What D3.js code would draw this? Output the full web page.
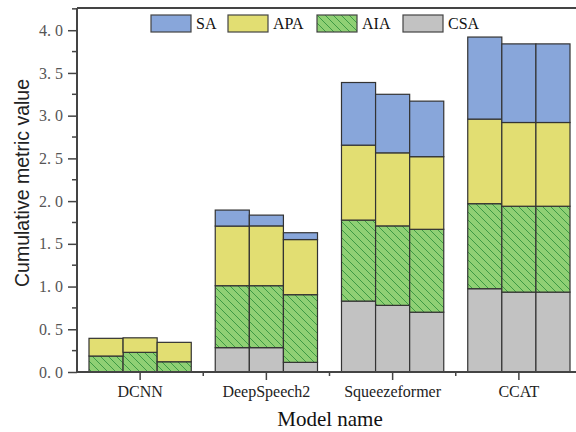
<!DOCTYPE html>
<html>
<head>
<meta charset="utf-8">
<script src="https://cdn.jsdelivr.net/npm/d3@7"></script>
<style>
  body { margin: 0; background: #fff; }
  text { font-family: "Liberation Serif", "Times New Roman", serif; }
</style>
</head>
<body>
<script>
width = 576
height = 432

models = ["DCNN", "DeepSpeech2", "Squeezeformer", "CCAT"]
variants = [0, 1, 2]
keys = ["CSA", "AIA", "APA", "SA"]
legendOrder = ["SA", "APA", "AIA", "CSA"]

// segment values, three bars per model
CSA = [[0, 0, 0], [0.285, 0.285, 0.113], [0.83, 0.78, 0.70], [0.975, 0.935, 0.935]]
AIA = [[0.187, 0.23, 0.12], [0.725, 0.725, 0.792], [0.948, 0.93, 0.97], [0.995, 1.005, 1.005]]
APA = [[0.207, 0.17, 0.227], [0.698, 0.70, 0.645], [0.877, 0.855, 0.85], [0.99, 0.98, 0.98]]
SA  = [[0, 0, 0], [0.187, 0.126, 0.08], [0.733, 0.685, 0.65], [0.96, 0.92, 0.92]]

yTicks = [0, 0.5, 1.0, 1.5, 2.0, 2.5, 3.0, 3.5, 4.0]

colors = {SA: "#88a6da", APA: "#e2de72", AIA: "#8fd074", CSA: "#c2c2c2"}

series = {CSA: CSA, AIA: AIA, APA: APA, SA: SA}
rows = []
models.forEach(function(m, i) {
    variants.forEach(function(v) {
        row = {model: m, v: v}
        keys.forEach(function(k) { row[k] = series[k][i][v] })
        rows.push(row)
    })
})
stacked = d3.stack().keys(keys)(rows)

// note: "top" is window.top, so use other names
pLeft = 77, pRight = 582, pTop = 8, pBottom = 372

x = d3.scaleBand()
    .domain(models)
    .range([pLeft, pRight])
    .paddingInner(0.19)
    .paddingOuter(0.095)
xs = d3.scaleBand()
    .domain(variants)
    .range([0, x.bandwidth()])
y = d3.scaleLinear()
    .domain([0, 4.26])
    .range([pBottom, pTop])

svg = d3.select("body")
    .append("svg")
    .attr("width", width)
    .attr("height", height)

defs = svg.append("defs")
pat = defs.append("pattern")
    .attr("id", "hatch")
    .attr("patternUnits", "userSpaceOnUse")
    .attr("width", 8)
    .attr("height", 8)
pat.append("rect")
    .attr("width", 8).attr("height", 8)
    .attr("fill", colors.AIA)
pat.append("path")
    .attr("d", "M-2,-2 L10,10 M-2,6 L2,10 M6,-2 L10,2")
    .attr("stroke", "#3e9a45")
    .attr("stroke-width", 1)

function fillFor(k) { return k == "AIA" ? "url(#hatch)" : colors[k] }

// bars
layers = svg.selectAll("g.layer")
    .data(stacked)
    .enter()
    .append("g")
    .attr("class", "layer")
    .attr("fill", function(d) { return fillFor(d.key) })

layers.selectAll("rect")
    .data(function(d) { return d.filter(function(s) { return s[1] - s[0] > 0 }) })
    .enter()
    .append("rect")
    .attr("x", function(d) { return x(d.data.model) + xs(d.data.v) })
    .attr("width", xs.bandwidth())
    .attr("y", function(d) { return y(d[1]) })
    .attr("height", function(d) { return y(d[0]) - y(d[1]) })
    .attr("stroke", "#333")
    .attr("stroke-width", 1.2)

// top frame
svg.append("line")
    .attr("x1", pLeft).attr("x2", width)
    .attr("y1", pTop).attr("y2", pTop)
    .attr("stroke", "#444")
    .attr("stroke-width", 2)

// y axis
yAxis = svg.append("g")
    .attr("transform", "translate(" + pLeft + ",0)")
    .call(d3.axisLeft(y).tickValues(yTicks).tickSize(9).tickPadding(5)
        .tickFormat(function(d) { return d3.format(".1f")(d).replace(".", ". ") }))
yAxis.select(".domain").attr("stroke", "#444").attr("stroke-width", 2)
    .attr("d", "M0," + pTop + "V" + pBottom)
yAxis.selectAll(".tick line").attr("stroke", "#444").attr("stroke-width", 1.5)
yAxis.selectAll(".tick text")
    .attr("fill", "#555")
    .style("font-size", "16px")
    .style("font-family", "Liberation Serif, serif")
yAxis.selectAll("line.minor")
    .data(d3.range(0.25, 4.26, 0.5))
    .enter()
    .append("line")
    .attr("class", "minor")
    .attr("x1", -5).attr("x2", 0)
    .attr("y1", function(d) { return y(d) })
    .attr("y2", function(d) { return y(d) })
    .attr("stroke", "#444")
    .attr("stroke-width", 1.5)

// x axis
xAxis = svg.append("g")
    .attr("transform", "translate(0," + pBottom + ")")
    .call(d3.axisBottom(x).tickSize(8).tickPadding(6))
xAxis.select(".domain").attr("stroke", "#444").attr("stroke-width", 2)
    .attr("d", "M" + pLeft + ",0H" + width)
xAxis.selectAll(".tick line").attr("stroke", "#444").attr("stroke-width", 1.5)
xAxis.selectAll(".tick text")
    .attr("fill", "#222")
    .style("font-size", "16px")
    .style("font-family", "Liberation Serif, serif")
xAxis.selectAll("line.minor")
    .data(models.slice(1))
    .enter()
    .append("line")
    .attr("class", "minor")
    .attr("x1", function(d) { return x(d) - x.step() * x.paddingInner() / 2 })
    .attr("x2", function(d) { return x(d) - x.step() * x.paddingInner() / 2 })
    .attr("y1", 0).attr("y2", 4)
    .attr("stroke", "#444")
    .attr("stroke-width", 1.5)

// axis titles
svg.append("text")
    .attr("transform", "translate(22," + 183 + ") rotate(-90)")
    .attr("text-anchor", "middle")
    .attr("dy", "0.35em")
    .style("font-family", "Liberation Sans, Arial, sans-serif")
    .style("font-size", "19.5px")
    .attr("fill", "#222")
    .text("Cumulative metric value")

svg.append("text")
    .attr("x", 330)
    .attr("y", 426)
    .attr("text-anchor", "middle")
    .style("font-size", "21px")
    .attr("fill", "#111")
    .text("Model name")

// legend
legX = [151, 228, 317, 403]
legend = svg.selectAll("g.leg")
    .data(legendOrder)
    .enter()
    .append("g")
    .attr("class", "leg")
    .attr("transform", function(d, i) { return "translate(" + legX[i] + ",15)" })
legend.append("rect")
    .attr("width", 40)
    .attr("height", 17)
    .attr("fill", function(d) { return fillFor(d) })
    .attr("stroke", "#444")
    .attr("stroke-width", 1.2)
legend.append("text")
    .attr("x", 45)
    .attr("y", 14)
    .style("font-size", "16px")
    .attr("fill", "#111")
    .text(function(d) { return d })
</script>
</body>
</html>
